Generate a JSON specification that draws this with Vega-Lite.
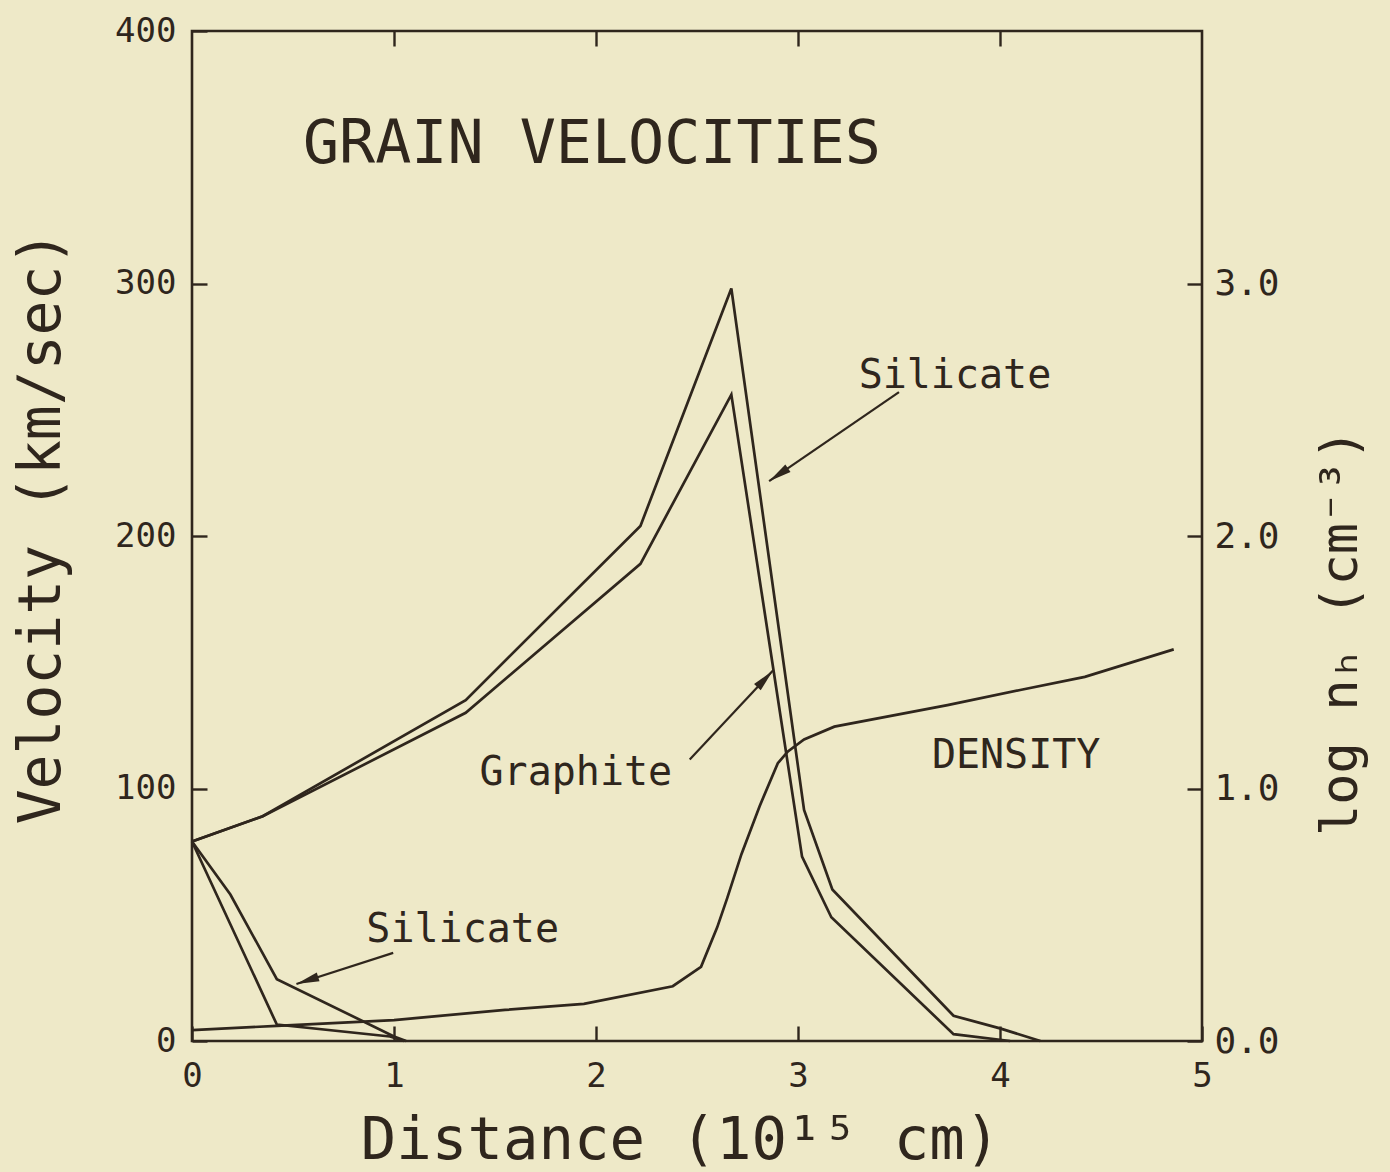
{
  "$schema": "https://vega.github.io/schema/vega-lite/v6.json",
  "width": 1010,
  "height": 1010,
  "autosize": {"type": "none"},
  "padding": {"left": 192, "top": 31, "right": 188, "bottom": 131},
  "background": "#EEE9C8",
  "config": {
    "view": {"stroke": "#2f261d", "strokeWidth": 2.6},
    "font": "DejaVu Sans Mono",
    "axis": {
      "domain": false,
      "grid": false,
      "labelFlush": false,
      "labelOverlap": false,
      "tickColor": "#2f261d",
      "tickWidth": 2.4,
      "tickSize": -15,
      "labelColor": "#2f261d",
      "titleColor": "#2f261d",
      "labelFont": "DejaVu Sans Mono",
      "titleFont": "DejaVu Sans Mono",
      "titleFontWeight": "normal",
      "labelFontWeight": "normal"
    }
  },
  "datasets": {
    "lines": [
      {"series": "Silicate", "d": 0, "v": 79},
      {"series": "Silicate", "d": 0.35, "v": 89},
      {"series": "Silicate", "d": 1.355, "v": 135},
      {"series": "Silicate", "d": 2.22, "v": 204},
      {"series": "Silicate", "d": 2.67, "v": 298},
      {"series": "Silicate", "d": 3.03, "v": 91.5},
      {"series": "Silicate", "d": 3.17, "v": 60},
      {"series": "Silicate", "d": 3.77, "v": 10},
      {"series": "Silicate", "d": 4.0, "v": 5},
      {"series": "Silicate", "d": 4.2, "v": 0},
      {"series": "Graphite", "d": 0, "v": 79},
      {"series": "Graphite", "d": 0.35, "v": 89},
      {"series": "Graphite", "d": 1.355, "v": 130},
      {"series": "Graphite", "d": 2.22, "v": 189},
      {"series": "Graphite", "d": 2.67, "v": 256},
      {"series": "Graphite", "d": 3.02, "v": 73},
      {"series": "Graphite", "d": 3.165, "v": 49},
      {"series": "Graphite", "d": 3.77, "v": 2.7},
      {"series": "Graphite", "d": 4.05, "v": 0},
      {"series": "Silicate (lower)", "d": 0, "v": 79},
      {"series": "Silicate (lower)", "d": 0.19, "v": 58},
      {"series": "Silicate (lower)", "d": 0.42, "v": 24.5},
      {"series": "Silicate (lower)", "d": 1.0, "v": 1.8},
      {"series": "Silicate (lower)", "d": 1.06, "v": 0},
      {"series": "Graphite (lower)", "d": 0, "v": 79},
      {"series": "Graphite (lower)", "d": 0.42, "v": 6.5},
      {"series": "Graphite (lower)", "d": 0.98, "v": 1.8},
      {"series": "Graphite (lower)", "d": 1.05, "v": 0}
    ],
    "density": [
      {"d": 0, "n": 0.043},
      {"d": 0.42, "n": 0.06},
      {"d": 1.0, "n": 0.083},
      {"d": 1.55, "n": 0.123},
      {"d": 1.94, "n": 0.147},
      {"d": 2.38, "n": 0.217},
      {"d": 2.52, "n": 0.294},
      {"d": 2.6, "n": 0.45},
      {"d": 2.65, "n": 0.567},
      {"d": 2.72, "n": 0.74},
      {"d": 2.81, "n": 0.93},
      {"d": 2.9, "n": 1.1},
      {"d": 2.95, "n": 1.147},
      {"d": 3.03, "n": 1.194},
      {"d": 3.18, "n": 1.245},
      {"d": 3.74, "n": 1.33},
      {"d": 4.1, "n": 1.39},
      {"d": 4.42, "n": 1.442},
      {"d": 4.86, "n": 1.551}
    ],
    "arrows": [
      {"arrow": "Silicate (upper)", "d": 3.5, "v": 257, "d2": 2.857, "v2": 221.7},
      {"arrow": "Graphite", "d": 2.464, "v": 111.5, "d2": 2.876, "v2": 146.7},
      {"arrow": "Silicate (lower)", "d": 0.996, "v": 34.9, "d2": 0.517, "v2": 22.6}
    ],
    "labels": [
      {"kind": "title", "text": "GRAIN VELOCITIES", "d": 1.98, "v": 355},
      {"kind": "note", "text": "Silicate", "d": 3.777, "v": 263.5},
      {"kind": "note", "text": "Graphite", "d": 1.9, "v": 106},
      {"kind": "note", "text": "DENSITY", "d": 4.08, "v": 113},
      {"kind": "note", "text": "Silicate", "d": 1.34, "v": 44}
    ]
  },
  "layer": [
    {
      "data": {"name": "lines"},
      "mark": {"type": "line", "color": "#2f261d", "strokeWidth": 2.7, "strokeJoin": "miter"},
      "encoding": {
        "x": {
          "field": "d", "type": "quantitative",
          "scale": {"domain": [0, 5], "nice": false, "zero": false},
          "axis": {
            "orient": "bottom",
            "values": [0, 1, 2, 3, 4, 5],
            "format": "d",
            "labelFontSize": 34,
            "labelPadding": 33,
            "title": "Distance (10¹⁵ cm)",
            "titleFontSize": 59,
            "titleX": 488,
            "titleY": 99,
            "titleBaseline": "middle",
            "titleAlign": "center"
          }
        },
        "y": {
          "field": "v", "type": "quantitative",
          "scale": {"domain": [0, 400], "nice": false},
          "axis": {
            "orient": "left",
            "values": [0, 100, 200, 300, 400],
            "format": "d",
            "labelFontSize": 34,
            "labelPadding": 31,
            "title": "Velocity (km/sec)",
            "titleFontSize": 58,
            "titleAngle": -90,
            "titleX": -150,
            "titleY": 496,
            "titleBaseline": "middle",
            "titleAlign": "center"
          }
        },
        "detail": {"field": "series", "type": "nominal"}
      }
    },
    {
      "data": {"name": "arrows"},
      "mark": {"type": "rule", "color": "#2f261d", "strokeWidth": 2.2},
      "encoding": {
        "x": {"field": "d", "type": "quantitative", "axis": null},
        "y": {"field": "v", "type": "quantitative", "scale": {"domain": [0, 400], "nice": false}, "axis": null},
        "x2": {"field": "d2"},
        "y2": {"field": "v2"}
      }
    },
    {
      "data": {"name": "arrows"},
      "mark": {"type": "point", "shape": "M0,0L0.4,2L-0.4,2Z", "filled": true, "color": "#2f261d", "size": 520, "opacity": 1},
      "encoding": {
        "x": {"field": "d2", "type": "quantitative", "axis": null},
        "y": {"field": "v2", "type": "quantitative", "scale": {"domain": [0, 400], "nice": false}, "axis": null},
        "angle": {
          "field": "arrow", "type": "nominal",
          "scale": {"type": "ordinal", "domain": ["Silicate (upper)", "Graphite", "Silicate (lower)"], "range": [235.5, 43.1, 252.2]},
          "legend": null
        }
      }
    },
    {
      "data": {"name": "labels"},
      "transform": [{"filter": "datum.kind === 'title'"}],
      "mark": {"type": "text", "fontSize": 60, "color": "#2f261d", "align": "center", "baseline": "middle", "font": "DejaVu Sans Mono"},
      "encoding": {
        "x": {"field": "d", "type": "quantitative", "axis": null},
        "y": {"field": "v", "type": "quantitative", "scale": {"domain": [0, 400], "nice": false}, "axis": null},
        "text": {"field": "text"}
      }
    },
    {
      "data": {"name": "labels"},
      "transform": [{"filter": "datum.kind === 'note'"}],
      "mark": {"type": "text", "fontSize": 40, "color": "#2f261d", "align": "center", "baseline": "middle", "font": "DejaVu Sans Mono"},
      "encoding": {
        "x": {"field": "d", "type": "quantitative", "axis": null},
        "y": {"field": "v", "type": "quantitative", "scale": {"domain": [0, 400], "nice": false}, "axis": null},
        "text": {"field": "text"}
      }
    },
    {
      "data": {"name": "density"},
      "mark": {"type": "line", "color": "#2f261d", "strokeWidth": 2.7},
      "encoding": {
        "x": {
          "field": "d", "type": "quantitative",
          "axis": {"orient": "top", "values": [1, 2, 3, 4], "labels": false, "title": null}
        },
        "y": {
          "field": "n", "type": "quantitative",
          "scale": {"domain": [0, 4], "nice": false},
          "axis": {
            "orient": "right",
            "values": [0, 1, 2, 3],
            "format": ".1f",
            "labelFontSize": 36,
            "labelPadding": 27,
            "title": "log nₕ (cm⁻³)",
            "titleFontSize": 52,
            "titleAngle": -90,
            "titleX": 138,
            "titleY": 601,
            "titleBaseline": "middle",
            "titleAlign": "center"
          }
        }
      }
    }
  ],
  "resolve": {"scale": {"y": "independent"}, "axis": {"x": "independent", "y": "independent"}}
}
